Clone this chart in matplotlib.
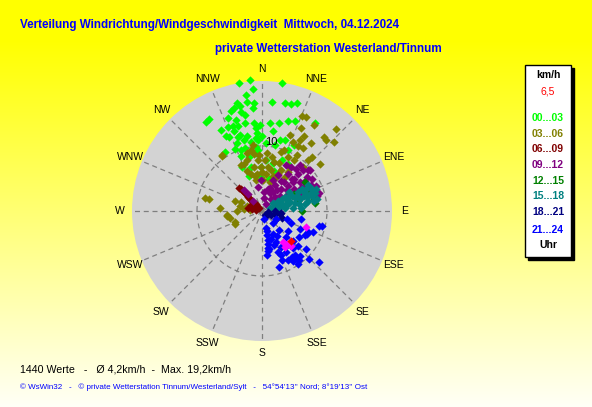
import numpy as np
import matplotlib
matplotlib.use("Agg")
import matplotlib.pyplot as plt
from matplotlib.patches import Rectangle

plt.rcParams['font.family'] = ['Liberation Sans', 'DejaVu Sans']

W, H = 592, 407

# data: wind direction (deg, clockwise from N) and speed (km/h), grouped by hour
green_dir = [355, 350, 9, 356, 5, 12, 15, 18, 347, 352, 356, 355, 343, 348, 345, 348,
             340, 344, 330, 328, 333, 344, 349, 355, 356, 356, 355, 359, 5, 11, 16, 20,
             31, 344, 349, 346, 351, 357, 336, 328, 341, 339, 347, 336, 340, 356, 11, 14,
             18, 23, 26, 21, 29, 17, 13, 358, 341, 341, 336, 340, 355, 354, 5, 13, 346, 359,
             350, 342, 338, 352, 334, 0, 8, 3, 345]
green_spd = [20.3, 20.0, 19.9, 18.8, 16.9, 17.0, 17.0, 17.5, 17.1, 16.9, 16.6, 15.9, 16.1, 16.5, 16.4, 15.5,
             15.2, 14.6, 16.3, 16.2, 13.9, 13.6, 13.8, 13.6, 12.8, 12.0, 11.2, 13.3, 13.6, 13.8, 14.4, 14.7,
             15.8, 12.2, 11.7, 11.3, 10.8, 11.0, 10.4, 10.7, 9.9, 9.0, 8.6, 7.4, 5.8, 9.4, 10.3, 11.3,
             11.5, 10.2, 11.3, 8.4, 8.3, 6.5, 5.1, 5.2, 13.0, 13.8, 12.5, 11.1, 9.9, 8.9, 7.8, 7.5, 7.0, 6.8,
             15.0, 12.0, 14.0, 18.0, 12.8, 11.5, 12.5, 10.5, 10.0]

olive_dir = [23, 25, 31, 42, 40, 42, 46, 29, 25, 24, 29, 33, 36, 42, 51, 43, 32, 26, 32, 28, 20, 20, 43,
             350, 352, 344, 355, 3, 10, 14, 20, 25, 34, 8, 359, 350, 339, 340, 353, 6, 17, 23, 349, 1,
             15, 23, 34, 335, 343, 357, 352, 5, 345, 0, 12, 348, 30, 18,
             324, 283, 283, 282, 270, 275, 275, 263, 258, 245, 289, 292, 274, 290, 262, 248, 324]
olive_spd = [15.8, 15.9, 15.5, 16.9, 14.8, 14.6, 15.3, 13.2, 14.1, 11.7, 11.4, 11.5, 12.9, 10.6, 11.5, 9.3,
             10.1, 9.2, 9.2, 12.4, 12.5, 10.0, 11.3,
             9.5, 8.9, 8.1, 7.8, 7.8, 8.5, 7.8, 7.8, 6.9, 7.2, 6.8, 6.8, 6.9, 7.8, 6.6, 5.8, 5.8, 5.7,
             6.2, 4.8, 4.7, 4.6, 5.6, 6.3, 7.8, 6.0, 8.6, 10.3, 9.0, 9.2, 6.0, 6.5, 5.5, 8.0, 9.5,
             10.5, 9.0, 8.3, 3.4, 3.8, 2.8, 1.9, 5.4, 5.1, 4.6, 2.4, 3.5, 6.5, 4.4, 5.4, 4.5, 10.6]

maroon_dir = [316, 316, 316, 316, 316, 316, 316, 316, 316, 316, 316, 316, 282, 282, 282, 300, 300]
maroon_spd = [5.0, 4.6, 4.2, 3.8, 3.4, 3.0, 2.6, 2.2, 1.8, 1.4, 1.0, 0.6, 2.2, 1.6, 1.0, 1.5, 2.0]

purple_dir = [50, 57, 53, 65, 44, 43, 38, 26, 15, 30, 41, 46, 47, 53, 59, 65, 60, 57, 49, 38, 31, 10,
              319, 319, 317, 358, 350, 70, 76, 71, 34, 39, 72, 75, 28, 24, 20, 35, 55, 5, 25, 40, 48,
              45, 50, 35, 60, 55, 42, 20, 62, 45, 32, 64]
purple_spd = [9.7, 9.1, 8.6, 9.1, 8.0, 6.7, 5.6, 4.4, 3.5, 3.3, 4.5, 5.6, 6.5, 7.3, 7.7, 7.9, 5.8, 4.8,
              3.6, 2.3, 1.2, 2.1, 4.2, 3.4, 2.1, 4.7, 3.7, 8.2, 8.4, 6.4, 8.1, 8.4, 9.2, 8.8, 8.0, 6.0,
              5.0, 7.0, 6.0, 3.0, 3.0, 9.2, 9.5,
              7.0, 5.0, 4.0, 7.0, 8.0, 3.0, 3.8, 8.5, 9.0, 5.5, 6.5]

dgreen_dir = [56, 77, 81, 90, 62, 70, 74, 69]
dgreen_spd = [7.9, 8.2, 8.3, 6.1, 5.5, 7.6, 5.8, 4.3]

teal_dir = [61, 66, 71, 71, 67, 61, 63, 68, 69, 66, 68, 66, 63, 73, 78, 79, 81, 76, 82, 84, 85, 84,
            75, 52, 57, 59, 73, 67, 73, 56, 64, 70, 62, 72, 80, 77, 65, 74, 70, 60, 78, 68]
teal_spd = [8.1, 8.4, 8.7, 7.8, 7.2, 7.0, 6.3, 5.5, 4.3, 3.2, 2.1, 1.3, 5.1, 6.1, 7.3, 8.1, 6.7, 5.2,
            3.5, 2.5, 6.1, 4.8, 3.9, 2.1, 2.9, 4.1, 8.0, 5.9, 7.2, 5.1, 7.6, 6.8, 4.6, 4.6, 5.8, 4.0,
            2.6, 3.0, 1.8, 3.6, 8.6, 8.9]

navy_dir = [100, 105, 100, 115, 120, 110, 130, 95, 140, 90]
navy_spd = [1.0, 2.0, 2.8, 1.5, 2.5, 3.2, 1.0, 3.0, 0.8, 2.0]

blue_dir = [166, 167, 168, 170, 173, 170, 162, 154, 155, 152, 149, 147, 143, 143, 115, 114, 105, 132,
            136, 131, 134, 134, 137, 137, 138, 120, 108, 102, 113, 158, 163, 146, 159, 104, 117, 119,
            144, 171, 169, 165, 160, 150, 145, 140, 148, 140, 128, 125, 112, 157, 152, 172]
blue_spd = [1.3, 2.7, 3.7, 5.2, 6.8, 6.0, 4.6, 4.0, 5.2, 6.2, 7.3, 8.4, 8.4, 9.4, 6.4, 7.8, 9.1, 11.8,
            10.3, 8.9, 7.8, 6.7, 5.5, 3.9, 2.5, 2.5, 4.0, 6.2, 4.9, 8.1, 9.0, 9.8, 6.7, 9.5, 7.7, 7.5,
            9.1, 5.8, 4.5, 3.2, 5.5, 4.5, 6.5, 7.5, 9.0, 9.0, 5.0, 7.0, 8.5, 7.3, 8.5, 6.2]

magenta_dir = [110, 146, 147, 140, 143]
magenta_spd = [7.2, 5.8, 6.6, 7.0, 6.3]

current_dir = [136]
current_spd = [6.5]

groups = [
    (green_dir, green_spd, '#00ff00'),
    (olive_dir, olive_spd, '#808000'),
    (maroon_dir, maroon_spd, '#800000'),
    (purple_dir, purple_spd, '#800080'),
    (dgreen_dir, dgreen_spd, '#008000'),
    (teal_dir, teal_spd, '#008080'),
    (navy_dir, navy_spd, '#000080'),
    (blue_dir, blue_spd, '#0000ff'),
    (magenta_dir, magenta_spd, '#ff00ff'),
    (current_dir, current_spd, '#ff0000'),
]

compass = ['N', 'NNE', 'NE', 'ENE', 'E', 'ESE', 'SE', 'SSE',
           'S', 'SSW', 'SW', 'WSW', 'W', 'WNW', 'NW', 'NNW']
hour_labels = ['00...03', '03...06', '06...09', '09...12',
               '12...15', '15...18', '18...21', '21...24']
hour_colors = ['#00ff00', '#808000', '#800000', '#800080',
               '#008000', '#008080', '#000080', '#0000ff']

fig = plt.figure(figsize=(W / 100, H / 100), dpi=100)

# yellow background gradient
bg = fig.add_axes([0, 0, 1, 1])
rows = np.arange(H)
t = np.clip((rows - 40) / (H - 40), 0, 1)
grad = np.ones((H, 1, 3))
grad[:, 0, 2] = 0.97 * t
bg.imshow(grad, aspect='auto', extent=[0, 1, 0, 1])
bg.axis('off')

# polar plot
cx, cy, rad = 262, 211, 130
ax = fig.add_axes([(cx - rad) / W, (H - cy - rad) / H, 2 * rad / W, 2 * rad / H],
                  projection='polar')
ax.set_theta_zero_location('N')
ax.set_theta_direction(-1)
ax.set_ylim(0, 20)
ax.set_facecolor('#d3d3d3')
ax.spines['polar'].set_visible(False)
ax.set_xticks(np.radians(np.arange(0, 360, 22.5)))
ax.set_xticklabels([])
ax.set_yticks([10])
ax.set_yticklabels([])
ax.grid(True, color='#7f7f7f', linestyle=(0, (4, 3)), linewidth=0.9)
ax.tick_params(length=0)

for d, s, c in groups:
    ax.scatter(np.radians(d), s, marker='D', s=18, color=c, linewidths=0,
               zorder=3, clip_on=False)

ax.text(np.radians(8), 10.7, '10', fontsize=8, ha='center', va='center', zorder=4)
for i, lab in enumerate(compass):
    ax.text(np.radians(i * 22.5), 21.9, lab, fontsize=7.5, ha='center', va='center',
            clip_on=False)

# titles
blue = '#0000ff'
fig.text(20 / W, 1 - 25 / H, 'Verteilung Windrichtung/Windgeschwindigkeit  Mittwoch, 04.12.2024',
         fontsize=8.4, fontweight='bold', color=blue, va='center')
fig.text(215 / W, 1 - 49 / H, 'private Wetterstation Westerland/Tinnum',
         fontsize=8.4, fontweight='bold', color=blue, va='center')

# legend box
fig.patches.append(Rectangle((528 / W, 1 - 260 / H), 46 / W, 192 / H,
                             transform=fig.transFigure, color='black', zorder=1))
fig.patches.append(Rectangle((525 / W, 1 - 257 / H), 46 / W, 192 / H,
                             transform=fig.transFigure, facecolor='white',
                             edgecolor='black', linewidth=1, zorder=2))
lx = 548 / W
fig.text(lx, 1 - 75 / H, 'km/h', fontsize=7.5, fontweight='bold', ha='center', va='center')
fig.text(lx, 1 - 92 / H, '6,5', fontsize=7.5, color='red', ha='center', va='center')
legend_y = [118, 134, 149, 165, 181, 196, 212, 230]
for lab, col, yy in zip(hour_labels, hour_colors, legend_y):
    fig.text(lx, 1 - yy / H, lab, fontsize=7.5, fontweight='bold', color=col,
             ha='center', va='center')
fig.text(lx, 1 - 245 / H, 'Uhr', fontsize=7.5, fontweight='bold', ha='center', va='center')

# footer
fig.text(20 / W, 1 - 370 / H, '1440 Werte   -   Ø 4,2km/h  -  Max. 19,2km/h',
         fontsize=7.7, va='center')
fig.text(20 / W, 1 - 387 / H,
         "© WsWin32   -   © private Wetterstation Tinnum/Westerland/Sylt   -   "
         "54°54'13'' Nord; 8°19'13'' Ost",
         fontsize=5.8, color=blue, va='center')

fig.savefig('out.png', dpi=100)
